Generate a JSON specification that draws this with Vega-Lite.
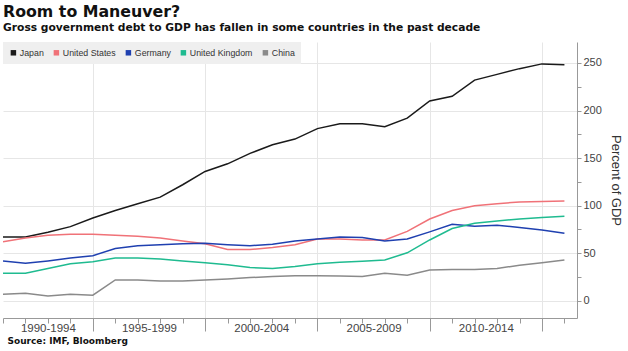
{
  "$schema": "https://vega.github.io/schema/vega-lite/v6.json",
  "width": 574,
  "height": 276,
  "autosize": {"type": "none"},
  "padding": {"left": 3, "top": 42, "right": 51, "bottom": 33},
  "background": "white",
  "config": {"view": {"stroke": null}},
  "title": {
    "text": "Room to Maneuver?",
    "subtitle": "Gross government debt to GDP has fallen in some countries in the past decade",
    "anchor": "start",
    "frame": "group",
    "font": "DejaVu Sans",
    "fontSize": 15.8,
    "fontWeight": "bold",
    "color": "#111111",
    "subtitleFont": "DejaVu Sans",
    "subtitleFontSize": 10.7,
    "subtitleFontWeight": "bold",
    "subtitleColor": "#111111",
    "subtitlePadding": 3,
    "offset": 8
  },
  "datasets": {
    "debt": [
      {"year": 1991, "country": "Japan", "value": 67},
      {"year": 1992, "country": "Japan", "value": 67},
      {"year": 1993, "country": "Japan", "value": 72},
      {"year": 1994, "country": "Japan", "value": 78},
      {"year": 1995, "country": "Japan", "value": 87},
      {"year": 1996, "country": "Japan", "value": 95},
      {"year": 1997, "country": "Japan", "value": 102},
      {"year": 1998, "country": "Japan", "value": 109},
      {"year": 1999, "country": "Japan", "value": 122},
      {"year": 2000, "country": "Japan", "value": 136},
      {"year": 2001, "country": "Japan", "value": 144},
      {"year": 2002, "country": "Japan", "value": 155},
      {"year": 2003, "country": "Japan", "value": 164},
      {"year": 2004, "country": "Japan", "value": 170},
      {"year": 2005, "country": "Japan", "value": 181},
      {"year": 2006, "country": "Japan", "value": 186},
      {"year": 2007, "country": "Japan", "value": 186},
      {"year": 2008, "country": "Japan", "value": 183},
      {"year": 2009, "country": "Japan", "value": 192},
      {"year": 2010, "country": "Japan", "value": 210},
      {"year": 2011, "country": "Japan", "value": 215},
      {"year": 2012, "country": "Japan", "value": 232},
      {"year": 2013, "country": "Japan", "value": 238},
      {"year": 2014, "country": "Japan", "value": 244},
      {"year": 2015, "country": "Japan", "value": 249},
      {"year": 2016, "country": "Japan", "value": 248},
      {"year": 1991, "country": "United States", "value": 62},
      {"year": 1992, "country": "United States", "value": 66},
      {"year": 1993, "country": "United States", "value": 69},
      {"year": 1994, "country": "United States", "value": 70},
      {"year": 1995, "country": "United States", "value": 70},
      {"year": 1996, "country": "United States", "value": 69},
      {"year": 1997, "country": "United States", "value": 68},
      {"year": 1998, "country": "United States", "value": 66},
      {"year": 1999, "country": "United States", "value": 63},
      {"year": 2000, "country": "United States", "value": 60},
      {"year": 2001, "country": "United States", "value": 54},
      {"year": 2002, "country": "United States", "value": 54},
      {"year": 2003, "country": "United States", "value": 56},
      {"year": 2004, "country": "United States", "value": 59},
      {"year": 2005, "country": "United States", "value": 65},
      {"year": 2006, "country": "United States", "value": 65},
      {"year": 2007, "country": "United States", "value": 64},
      {"year": 2008, "country": "United States", "value": 64},
      {"year": 2009, "country": "United States", "value": 73},
      {"year": 2010, "country": "United States", "value": 86},
      {"year": 2011, "country": "United States", "value": 95},
      {"year": 2012, "country": "United States", "value": 100},
      {"year": 2013, "country": "United States", "value": 102},
      {"year": 2014, "country": "United States", "value": 104},
      {"year": 2015, "country": "United States", "value": 104.5},
      {"year": 2016, "country": "United States", "value": 105},
      {"year": 1991, "country": "Germany", "value": 42},
      {"year": 1992, "country": "Germany", "value": 39.5},
      {"year": 1993, "country": "Germany", "value": 42},
      {"year": 1994, "country": "Germany", "value": 45},
      {"year": 1995, "country": "Germany", "value": 47.5},
      {"year": 1996, "country": "Germany", "value": 55},
      {"year": 1997, "country": "Germany", "value": 58},
      {"year": 1998, "country": "Germany", "value": 59},
      {"year": 1999, "country": "Germany", "value": 60},
      {"year": 2000, "country": "Germany", "value": 60.5},
      {"year": 2001, "country": "Germany", "value": 59},
      {"year": 2002, "country": "Germany", "value": 58},
      {"year": 2003, "country": "Germany", "value": 59.5},
      {"year": 2004, "country": "Germany", "value": 63},
      {"year": 2005, "country": "Germany", "value": 65},
      {"year": 2006, "country": "Germany", "value": 67},
      {"year": 2007, "country": "Germany", "value": 66.5},
      {"year": 2008, "country": "Germany", "value": 63},
      {"year": 2009, "country": "Germany", "value": 65},
      {"year": 2010, "country": "Germany", "value": 72.5},
      {"year": 2011, "country": "Germany", "value": 80.5},
      {"year": 2012, "country": "Germany", "value": 78.5},
      {"year": 2013, "country": "Germany", "value": 79.5},
      {"year": 2014, "country": "Germany", "value": 77},
      {"year": 2015, "country": "Germany", "value": 74.5},
      {"year": 2016, "country": "Germany", "value": 71},
      {"year": 1991, "country": "United Kingdom", "value": 29},
      {"year": 1992, "country": "United Kingdom", "value": 29},
      {"year": 1993, "country": "United Kingdom", "value": 34},
      {"year": 1994, "country": "United Kingdom", "value": 39},
      {"year": 1995, "country": "United Kingdom", "value": 41},
      {"year": 1996, "country": "United Kingdom", "value": 45},
      {"year": 1997, "country": "United Kingdom", "value": 45},
      {"year": 1998, "country": "United Kingdom", "value": 44},
      {"year": 1999, "country": "United Kingdom", "value": 42},
      {"year": 2000, "country": "United Kingdom", "value": 40},
      {"year": 2001, "country": "United Kingdom", "value": 38},
      {"year": 2002, "country": "United Kingdom", "value": 35},
      {"year": 2003, "country": "United Kingdom", "value": 34},
      {"year": 2004, "country": "United Kingdom", "value": 36},
      {"year": 2005, "country": "United Kingdom", "value": 39},
      {"year": 2006, "country": "United Kingdom", "value": 40.5},
      {"year": 2007, "country": "United Kingdom", "value": 41.5},
      {"year": 2008, "country": "United Kingdom", "value": 43},
      {"year": 2009, "country": "United Kingdom", "value": 50.5},
      {"year": 2010, "country": "United Kingdom", "value": 64},
      {"year": 2011, "country": "United Kingdom", "value": 76},
      {"year": 2012, "country": "United Kingdom", "value": 81.5},
      {"year": 2013, "country": "United Kingdom", "value": 84},
      {"year": 2014, "country": "United Kingdom", "value": 86},
      {"year": 2015, "country": "United Kingdom", "value": 87.5},
      {"year": 2016, "country": "United Kingdom", "value": 89},
      {"year": 1991, "country": "China", "value": 7},
      {"year": 1992, "country": "China", "value": 8},
      {"year": 1993, "country": "China", "value": 5},
      {"year": 1994, "country": "China", "value": 7},
      {"year": 1995, "country": "China", "value": 6},
      {"year": 1996, "country": "China", "value": 22},
      {"year": 1997, "country": "China", "value": 22},
      {"year": 1998, "country": "China", "value": 21},
      {"year": 1999, "country": "China", "value": 21},
      {"year": 2000, "country": "China", "value": 22},
      {"year": 2001, "country": "China", "value": 23},
      {"year": 2002, "country": "China", "value": 24.5},
      {"year": 2003, "country": "China", "value": 25.5},
      {"year": 2004, "country": "China", "value": 26.5},
      {"year": 2005, "country": "China", "value": 26.5},
      {"year": 2006, "country": "China", "value": 26},
      {"year": 2007, "country": "China", "value": 25.5},
      {"year": 2008, "country": "China", "value": 29},
      {"year": 2009, "country": "China", "value": 27},
      {"year": 2010, "country": "China", "value": 32.5},
      {"year": 2011, "country": "China", "value": 33},
      {"year": 2012, "country": "China", "value": 33},
      {"year": 2013, "country": "China", "value": 34},
      {"year": 2014, "country": "China", "value": 37.5},
      {"year": 2015, "country": "China", "value": 40},
      {"year": 2016, "country": "China", "value": 43}
    ]
  },
  "data": {"name": "debt"},
  "mark": {"type": "line", "strokeWidth": 1.5, "clip": true},
  "encoding": {
    "x": {
      "field": "year",
      "type": "quantitative",
      "scale": {"domain": [1991, 2016.56], "nice": false, "zero": false},
      "axis": {
        "values": [1991, 1992, 1993, 1994, 1995, 1996, 1997, 1998, 1999, 2000, 2001, 2002, 2003, 2004, 2005, 2006, 2007, 2008, 2009, 2010, 2011, 2012, 2013, 2014, 2015, 2016, 1997.5, 2002.5, 2007.5, 2012.5],
        "labelExpr": "datum.value == 1993 ? '1990-1994' : datum.value == 1997.5 ? '1995-1999' : datum.value == 2002.5 ? '2000-2004' : datum.value == 2007.5 ? '2005-2009' : datum.value == 2012.5 ? '2010-2014' : ''",
        "labelOverlap": false,
        "labelFlush": false,
        "labelBound": false,
        "tickSize": {"condition": {"test": "datum.value % 5 == 0", "value": 13}, "value": 5},
        "tickOpacity": {"condition": {"test": "datum.value % 1 != 0", "value": 0}, "value": 1},
        "grid": true,
        "gridOpacity": {"condition": {"test": "datum.value % 5 == 0", "value": 1}, "value": 0},
        "gridColor": "#e6e6e6",
        "domainColor": "#999999",
        "tickColor": "#999999",
        "labelFont": "Liberation Sans",
        "labelFontSize": 11.5,
        "labelColor": "#444444",
        "labelPadding": -1,
        "title": "Source: IMF, Bloomberg",
        "titleFont": "DejaVu Sans",
        "titleFontSize": 9,
        "titleFontWeight": "bold",
        "titleColor": "#111111",
        "titleAnchor": "start",
        "titleAlign": "left",
        "titleBaseline": "alphabetic",
        "titleX": 4,
        "titleY": 25
      }
    },
    "y": {
      "field": "value",
      "type": "quantitative",
      "scale": {"domain": [-18, 272], "nice": false, "zero": false},
      "axis": {
        "orient": "right",
        "values": [0, 25, 50, 75, 100, 125, 150, 175, 200, 225, 250],
        "labelExpr": "datum.value % 50 == 0 ? datum.label : ''",
        "labelOverlap": false,
        "grid": true,
        "gridOpacity": {"condition": {"test": "datum.value % 50 == 0", "value": 1}, "value": 0},
        "gridColor": "#e6e6e6",
        "tickSize": 4,
        "domainColor": "#999999",
        "tickColor": "#999999",
        "labelFont": "Liberation Sans",
        "labelFontSize": 11,
        "labelColor": "#444444",
        "labelPadding": 2,
        "title": "Percent of GDP",
        "titleFont": "Liberation Sans",
        "titleFontSize": 13,
        "titleFontWeight": "normal",
        "titleColor": "#333333",
        "titlePadding": 7,
        "titleAngle": 90
      }
    },
    "color": {
      "field": "country",
      "type": "nominal",
      "scale": {
        "domain": ["Japan", "United States", "Germany", "United Kingdom", "China"],
        "range": ["#1a1a1a", "#f07278", "#1f40b0", "#1fbb90", "#8a8a8a"]
      },
      "legend": {
        "title": null,
        "orient": "top-left",
        "offset": 0,
        "direction": "horizontal",
        "fillColor": "#efefef",
        "padding": 6,
        "symbolType": "square",
        "symbolSize": 30,
        "symbolStrokeWidth": 0,
        "labelFont": "Liberation Sans",
        "labelFontSize": 8.8,
        "labelColor": "#333333",
        "labelOffset": 2,
        "columnPadding": 8,
        "encode": {
          "symbols": {
            "update": {
              "fill": {"scale": "color", "field": "value"},
              "strokeWidth": {"value": 0},
              "opacity": {"value": 1}
            }
          }
        }
      }
    }
  }
}
